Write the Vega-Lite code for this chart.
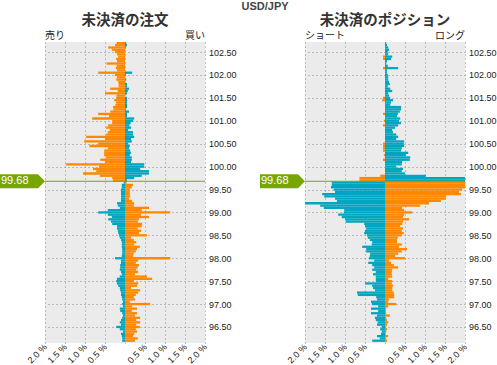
{
  "$schema": "https://vega.github.io/schema/vega-lite/v6.json",
  "padding": {"left": 0, "top": 0, "right": 0, "bottom": 0},
  "title": {"text": "USD/JPY", "font": "Liberation Sans", "fontSize": 11, "fontWeight": "bold", "color": "#444", "anchor": "middle", "offset": 1, "dx": 17},
  "config": {
    "view": {"fill": "#ebebeb", "stroke": null},
    "font": "Liberation Sans",
    "axis": {"gridColor": "#888", "gridDash": [1, 3], "gridWidth": 1, "domain": false, "ticks": false, "labelFont": "Liberation Sans", "labelColor": "#222", "labelFontSize": 9, "title": null, "labelOverlap": false, "labelFlush": false, "labelBound": false, "tickCount": 30}
  },
  "spacing": 23,
  "datasets": {
    "spot": [{"price": 99.68}],
    "orders": [
      {"price": 102.7, "sell": -0.21, "buy": 0.03},
      {"price": 102.65, "sell": -0.25, "buy": 0.05},
      {"price": 102.6, "sell": -0.42, "buy": 0.02},
      {"price": 102.55, "sell": -0.33, "buy": 0},
      {"price": 102.5, "sell": -0.25, "buy": 0},
      {"price": 102.45, "sell": -0.2, "buy": 0},
      {"price": 102.4, "sell": -0.17, "buy": 0},
      {"price": 102.35, "sell": -0.22, "buy": 0},
      {"price": 102.3, "sell": -0.2, "buy": 0},
      {"price": 102.25, "sell": -0.46, "buy": 0},
      {"price": 102.2, "sell": -0.21, "buy": 0},
      {"price": 102.15, "sell": -0.23, "buy": 0},
      {"price": 102.1, "sell": -0.2, "buy": 0},
      {"price": 102.05, "sell": -0.67, "buy": 0.18},
      {"price": 102.0, "sell": -0.25, "buy": 0.02},
      {"price": 101.95, "sell": -0.2, "buy": 0},
      {"price": 101.9, "sell": -0.22, "buy": 0.03},
      {"price": 101.85, "sell": -0.17, "buy": 0},
      {"price": 101.8, "sell": -0.16, "buy": 0.05},
      {"price": 101.75, "sell": -0.16, "buy": 0.05},
      {"price": 101.7, "sell": -0.37, "buy": 0.1},
      {"price": 101.65, "sell": -0.18, "buy": 0.07},
      {"price": 101.6, "sell": -0.5, "buy": 0.05},
      {"price": 101.55, "sell": -0.21, "buy": 0},
      {"price": 101.5, "sell": -0.22, "buy": 0.05},
      {"price": 101.45, "sell": -0.27, "buy": 0.05},
      {"price": 101.4, "sell": -0.22, "buy": 0.05},
      {"price": 101.35, "sell": -0.24, "buy": 0.05},
      {"price": 101.3, "sell": -0.3, "buy": 0.05},
      {"price": 101.25, "sell": -0.29, "buy": 0.02},
      {"price": 101.2, "sell": -0.37, "buy": 0.1},
      {"price": 101.15, "sell": -0.67, "buy": 0.05},
      {"price": 101.1, "sell": -0.4, "buy": 0.05},
      {"price": 101.05, "sell": -0.82, "buy": 0.23},
      {"price": 101.0, "sell": -0.32, "buy": 0.2},
      {"price": 100.95, "sell": -0.32, "buy": 0.14},
      {"price": 100.9, "sell": -0.42, "buy": 0.11},
      {"price": 100.85, "sell": -0.47, "buy": 0.15},
      {"price": 100.8, "sell": -0.38, "buy": 0.08},
      {"price": 100.75, "sell": -0.43, "buy": 0.2},
      {"price": 100.7, "sell": -0.47, "buy": 0.2},
      {"price": 100.65, "sell": -0.97, "buy": 0.23},
      {"price": 100.6, "sell": -0.5, "buy": 0.15},
      {"price": 100.55, "sell": -1.02, "buy": 0.17},
      {"price": 100.5, "sell": -0.67, "buy": 0.08},
      {"price": 100.45, "sell": -0.89, "buy": 0.12},
      {"price": 100.4, "sell": -0.43, "buy": 0.1},
      {"price": 100.35, "sell": -0.52, "buy": 0.13},
      {"price": 100.3, "sell": -0.52, "buy": 0.15},
      {"price": 100.25, "sell": -0.52, "buy": 0.12},
      {"price": 100.2, "sell": -0.48, "buy": 0.17},
      {"price": 100.15, "sell": -0.62, "buy": 0.17},
      {"price": 100.1, "sell": -0.5, "buy": 0.15},
      {"price": 100.05, "sell": -1.47, "buy": 0.48},
      {"price": 100.0, "sell": -0.65, "buy": 0.48},
      {"price": 99.95, "sell": -0.8, "buy": 0.38},
      {"price": 99.9, "sell": -0.72, "buy": 0.6},
      {"price": 99.85, "sell": -1.05, "buy": 0.6},
      {"price": 99.8, "sell": -0.63, "buy": 0.42},
      {"price": 99.75, "sell": -0.32, "buy": 0.23},
      {"price": 99.7, "sell": -0.3, "buy": 0.05},
      {"price": 99.65, "sell": -0.03, "buy": 0.04},
      {"price": 99.6, "sell": -0.08, "buy": 0.2},
      {"price": 99.55, "sell": -0.08, "buy": 0.17},
      {"price": 99.5, "sell": -0.1, "buy": 0.12},
      {"price": 99.45, "sell": -0.1, "buy": 0.12},
      {"price": 99.4, "sell": -0.1, "buy": 0.12},
      {"price": 99.35, "sell": -0.1, "buy": 0.13},
      {"price": 99.3, "sell": -0.1, "buy": 0.1},
      {"price": 99.25, "sell": -0.1, "buy": 0.18},
      {"price": 99.2, "sell": -0.2, "buy": 0.23},
      {"price": 99.15, "sell": -0.18, "buy": 0.22},
      {"price": 99.1, "sell": -0.13, "buy": 0.6},
      {"price": 99.05, "sell": -0.43, "buy": 0.42},
      {"price": 99.0, "sell": -0.67, "buy": 1.13},
      {"price": 98.95, "sell": -0.43, "buy": 0.4},
      {"price": 98.9, "sell": -0.33, "buy": 0.6},
      {"price": 98.85, "sell": -0.42, "buy": 0.35},
      {"price": 98.8, "sell": -0.35, "buy": 0.32},
      {"price": 98.75, "sell": -0.32, "buy": 0.43},
      {"price": 98.7, "sell": -0.2, "buy": 0.42},
      {"price": 98.65, "sell": -0.2, "buy": 0.32},
      {"price": 98.6, "sell": -0.18, "buy": 0.4},
      {"price": 98.55, "sell": -0.17, "buy": 0.35},
      {"price": 98.5, "sell": -0.15, "buy": 0.55},
      {"price": 98.45, "sell": -0.13, "buy": 0.15},
      {"price": 98.4, "sell": -0.1, "buy": 0.22},
      {"price": 98.35, "sell": -0.08, "buy": 0.28},
      {"price": 98.3, "sell": -0.08, "buy": 0.23},
      {"price": 98.25, "sell": -0.08, "buy": 0.37},
      {"price": 98.2, "sell": -0.07, "buy": 0.3},
      {"price": 98.15, "sell": -0.07, "buy": 0.27},
      {"price": 98.1, "sell": -0.07, "buy": 0.22},
      {"price": 98.05, "sell": -0.08, "buy": 0.2},
      {"price": 98.0, "sell": -0.25, "buy": 1.13},
      {"price": 97.95, "sell": -0.1, "buy": 0.33},
      {"price": 97.9, "sell": -0.1, "buy": 0.27},
      {"price": 97.85, "sell": -0.12, "buy": 0.35},
      {"price": 97.8, "sell": -0.12, "buy": 0.32},
      {"price": 97.75, "sell": -0.13, "buy": 0.28},
      {"price": 97.7, "sell": -0.1, "buy": 0.33},
      {"price": 97.65, "sell": -0.08, "buy": 0.25},
      {"price": 97.6, "sell": -0.13, "buy": 0.55},
      {"price": 97.55, "sell": -0.2, "buy": 0.68},
      {"price": 97.5, "sell": -0.22, "buy": 0.22},
      {"price": 97.45, "sell": -0.2, "buy": 0.33},
      {"price": 97.4, "sell": -0.17, "buy": 0.3},
      {"price": 97.35, "sell": -0.13, "buy": 0.15},
      {"price": 97.3, "sell": -0.12, "buy": 0.38},
      {"price": 97.25, "sell": -0.1, "buy": 0.33},
      {"price": 97.2, "sell": -0.1, "buy": 0.27},
      {"price": 97.15, "sell": -0.08, "buy": 0.22},
      {"price": 97.1, "sell": -0.07, "buy": 0.25},
      {"price": 97.05, "sell": -0.05, "buy": 0.12},
      {"price": 97.0, "sell": -0.07, "buy": 0.63},
      {"price": 96.95, "sell": -0.05, "buy": 0.18},
      {"price": 96.9, "sell": -0.13, "buy": 0.3},
      {"price": 96.85, "sell": -0.12, "buy": 0.17},
      {"price": 96.8, "sell": -0.07, "buy": 0.3},
      {"price": 96.75, "sell": -0.05, "buy": 0.25},
      {"price": 96.7, "sell": -0.07, "buy": 0.38},
      {"price": 96.65, "sell": -0.1, "buy": 0.28},
      {"price": 96.6, "sell": -0.13, "buy": 0.38},
      {"price": 96.55, "sell": -0.1, "buy": 0.28},
      {"price": 96.5, "sell": -0.22, "buy": 0.37},
      {"price": 96.45, "sell": -0.13, "buy": 0.27},
      {"price": 96.4, "sell": -0.05, "buy": 0.3},
      {"price": 96.35, "sell": -0.1, "buy": 0.23},
      {"price": 96.3, "sell": -0.08, "buy": 0.2},
      {"price": 96.25, "sell": -0.07, "buy": 0.32},
      {"price": 96.2, "sell": -0.07, "buy": 0.25},
      {"price": 96.15, "sell": -0.07, "buy": 0.23}
    ],
    "positions": [
      {"price": 102.7, "short": 0, "long": 0.03},
      {"price": 102.65, "short": 0, "long": 0.05},
      {"price": 102.6, "short": 0, "long": 0.08},
      {"price": 102.55, "short": 0, "long": 0.1},
      {"price": 102.5, "short": 0, "long": 0.07},
      {"price": 102.45, "short": 0, "long": 0.08},
      {"price": 102.4, "short": -0.05, "long": 0.18},
      {"price": 102.35, "short": -0.05, "long": 0.15},
      {"price": 102.3, "short": 0, "long": 0.05},
      {"price": 102.25, "short": 0, "long": 0.03},
      {"price": 102.2, "short": 0, "long": 0.07},
      {"price": 102.15, "short": -0.05, "long": 0.33},
      {"price": 102.1, "short": 0, "long": 0.05},
      {"price": 102.05, "short": 0, "long": 0.05},
      {"price": 102.0, "short": 0, "long": 0.07},
      {"price": 101.95, "short": 0, "long": 0.08},
      {"price": 101.9, "short": 0, "long": 0.08},
      {"price": 101.85, "short": 0, "long": 0.1},
      {"price": 101.8, "short": 0, "long": 0.12},
      {"price": 101.75, "short": 0, "long": 0.07},
      {"price": 101.7, "short": 0, "long": 0.13},
      {"price": 101.65, "short": 0, "long": 0.18},
      {"price": 101.6, "short": 0, "long": 0.08},
      {"price": 101.55, "short": 0, "long": 0.1},
      {"price": 101.5, "short": -0.05, "long": 0.13},
      {"price": 101.45, "short": -0.07, "long": 0.2},
      {"price": 101.4, "short": 0, "long": 0.15},
      {"price": 101.35, "short": 0, "long": 0.13},
      {"price": 101.3, "short": 0, "long": 0.4},
      {"price": 101.25, "short": 0, "long": 0.4},
      {"price": 101.2, "short": 0, "long": 0.37},
      {"price": 101.15, "short": -0.05, "long": 0.32},
      {"price": 101.1, "short": 0, "long": 0.3},
      {"price": 101.05, "short": 0, "long": 0.38},
      {"price": 101.0, "short": -0.03, "long": 0.35},
      {"price": 100.95, "short": 0, "long": 0.4},
      {"price": 100.9, "short": -0.05, "long": 0.33},
      {"price": 100.85, "short": 0, "long": 0.25},
      {"price": 100.8, "short": 0, "long": 0.18},
      {"price": 100.75, "short": 0, "long": 0.2},
      {"price": 100.7, "short": 0, "long": 0.28},
      {"price": 100.65, "short": 0, "long": 0.33},
      {"price": 100.6, "short": 0, "long": 0.28},
      {"price": 100.55, "short": 0, "long": 0.48},
      {"price": 100.5, "short": -0.05, "long": 0.47},
      {"price": 100.45, "short": -0.05, "long": 0.48},
      {"price": 100.4, "short": -0.05, "long": 0.42},
      {"price": 100.35, "short": -0.05, "long": 0.4},
      {"price": 100.3, "short": 0, "long": 0.58},
      {"price": 100.25, "short": -0.03, "long": 0.52},
      {"price": 100.2, "short": 0, "long": 0.63},
      {"price": 100.15, "short": -0.05, "long": 0.62},
      {"price": 100.1, "short": 0, "long": 0.43},
      {"price": 100.05, "short": 0, "long": 0.42},
      {"price": 100.0, "short": 0, "long": 0.28},
      {"price": 99.95, "short": 0, "long": 0.45},
      {"price": 99.9, "short": 0, "long": 0.42},
      {"price": 99.85, "short": 0, "long": 0.5},
      {"price": 99.8, "short": -0.12, "long": 1.02},
      {"price": 99.75, "short": -0.64, "long": 2.0},
      {"price": 99.7, "short": -0.64, "long": 2.0},
      {"price": 99.65, "short": -1.33, "long": 2.0},
      {"price": 99.6, "short": -1.33, "long": 2.0},
      {"price": 99.55, "short": -1.35, "long": 2.0},
      {"price": 99.5, "short": -1.28, "long": 1.93},
      {"price": 99.45, "short": -1.25, "long": 1.85},
      {"price": 99.4, "short": -1.57, "long": 1.9},
      {"price": 99.35, "short": -1.52, "long": 1.53},
      {"price": 99.3, "short": -1.25, "long": 1.52},
      {"price": 99.25, "short": -1.2, "long": 1.4},
      {"price": 99.2, "short": -2.0, "long": 1.1},
      {"price": 99.15, "short": -1.62, "long": 0.88},
      {"price": 99.1, "short": -1.53, "long": 0.43},
      {"price": 99.05, "short": -1.02, "long": 0.48},
      {"price": 99.0, "short": -1.03, "long": 0.68},
      {"price": 98.95, "short": -1.17, "long": 0.48},
      {"price": 98.9, "short": -1.08, "long": 0.45},
      {"price": 98.85, "short": -1.0, "long": 0.6},
      {"price": 98.8, "short": -0.98, "long": 0.45},
      {"price": 98.75, "short": -0.52, "long": 0.43},
      {"price": 98.7, "short": -0.5, "long": 0.38},
      {"price": 98.65, "short": -0.47, "long": 0.45},
      {"price": 98.6, "short": -0.5, "long": 0.42},
      {"price": 98.55, "short": -0.52, "long": 0.47},
      {"price": 98.5, "short": -0.45, "long": 0.42},
      {"price": 98.45, "short": -0.43, "long": 0.32},
      {"price": 98.4, "short": -0.38, "long": 0.3},
      {"price": 98.35, "short": -0.32, "long": 0.3},
      {"price": 98.3, "short": -0.33, "long": 0.42},
      {"price": 98.25, "short": -0.57, "long": 0.35},
      {"price": 98.2, "short": -0.47, "long": 0.55},
      {"price": 98.15, "short": -0.47, "long": 0.42},
      {"price": 98.1, "short": -0.37, "long": 0.33},
      {"price": 98.05, "short": -0.38, "long": 0.25},
      {"price": 98.0, "short": -0.4, "long": 0.5},
      {"price": 97.95, "short": -0.27, "long": 0.1},
      {"price": 97.9, "short": -0.42, "long": 0.15},
      {"price": 97.85, "short": -0.32, "long": 0.22},
      {"price": 97.8, "short": -0.27, "long": 0.33},
      {"price": 97.75, "short": -0.32, "long": 0.18},
      {"price": 97.7, "short": -0.23, "long": 0.17},
      {"price": 97.65, "short": -0.3, "long": 0.17},
      {"price": 97.6, "short": -0.23, "long": 0.18},
      {"price": 97.55, "short": -0.23, "long": 0.08},
      {"price": 97.5, "short": -0.23, "long": 0.18},
      {"price": 97.45, "short": -0.5, "long": 0.17},
      {"price": 97.4, "short": -0.32, "long": 0.2},
      {"price": 97.35, "short": -0.3, "long": 0.18},
      {"price": 97.3, "short": -0.25, "long": 0.18},
      {"price": 97.25, "short": -0.7, "long": 0.22},
      {"price": 97.2, "short": -0.68, "long": 0.23},
      {"price": 97.15, "short": -0.22, "long": 0.23},
      {"price": 97.1, "short": -0.2, "long": 0.1},
      {"price": 97.05, "short": -0.35, "long": 0.08},
      {"price": 97.0, "short": -0.33, "long": 0.28},
      {"price": 96.95, "short": -0.17, "long": 0.08},
      {"price": 96.9, "short": -0.35, "long": 0.03},
      {"price": 96.85, "short": -0.17, "long": 0.02},
      {"price": 96.8, "short": -0.35, "long": 0.03},
      {"price": 96.75, "short": -0.2, "long": 0.12},
      {"price": 96.7, "short": -0.25, "long": 0.03},
      {"price": 96.65, "short": -0.23, "long": 0.05},
      {"price": 96.6, "short": -0.18, "long": 0.08},
      {"price": 96.55, "short": -0.2, "long": 0.05},
      {"price": 96.5, "short": -0.08, "long": 0.03},
      {"price": 96.45, "short": -0.12, "long": 0.05},
      {"price": 96.4, "short": -0.08, "long": 0.03},
      {"price": 96.35, "short": -0.1, "long": 0.02},
      {"price": 96.3, "short": -0.2, "long": 0.08},
      {"price": 96.25, "short": -0.13, "long": 0.03},
      {"price": 96.2, "short": -0.32, "long": 0.05},
      {"price": 96.15, "short": -0.32, "long": 0.05}
    ]
  },
  "hconcat": [
    {
      "width": 160, "height": 301,
      "title": {"text": "未決済の注文", "font": "Noto Sans CJK JP", "fontSize": 14.5, "fontWeight": "bold", "color": "#333", "offset": 3},
      "layer": [
        {
          "data": {"name": "orders"},
          "transform": [{"bin": {"step": 0.05, "anchor": 96.125}, "field": "price", "as": ["lo", "hi"]}],
          "mark": {"type": "rect", "clip": true},
          "encoding": {
            "y": {"field": "lo", "type": "quantitative", "scale": {"domain": [96.15, 102.72], "nice": false, "zero": false},
                  "axis": {"orient": "right", "values": [96.5, 97, 97.5, 98, 98.5, 99, 99.5, 100, 100.5, 101, 101.5, 102, 102.5], "tickCount": 30, "format": ".2f", "labelPadding": 3.5}},
            "y2": {"field": "hi"},
            "x": {"field": "sell", "type": "quantitative", "scale": {"domain": [-2, 2], "nice": false},
                  "axis": {"values": [-2, -1.5, -1, -0.5, 0, 0.5, 1, 1.5, 2], "tickCount": 30, "labelExpr": "datum.value == 0 ? '' : format(abs(datum.value), '.1f') + ' %'", "labelAngle": -45, "labelAlign": "right", "labelBaseline": "middle", "labelFontSize": 9, "labelPadding": 2}},
            "x2": {"datum": 0},
            "color": {"condition": {"test": "datum.price > 99.68", "value": "#ff8800"}, "value": "#00a6bf"}
          }
        },
        {
          "data": {"name": "orders"},
          "transform": [{"bin": {"step": 0.05, "anchor": 96.125}, "field": "price", "as": ["lo", "hi"]}],
          "mark": {"type": "rect", "clip": true},
          "encoding": {
            "y": {"field": "lo", "type": "quantitative", "scale": {"domain": [96.15, 102.72], "nice": false, "zero": false}},
            "y2": {"field": "hi"},
            "x": {"field": "buy", "type": "quantitative", "scale": {"domain": [-2, 2], "nice": false}},
            "x2": {"datum": 0},
            "color": {"condition": {"test": "datum.price > 99.68", "value": "#00a6bf"}, "value": "#ff8800"}
          }
        },
        {
          "data": {"name": "spot"},
          "mark": {"type": "rule", "color": "#78a600", "strokeWidth": 1},
          "encoding": {
            "y": {"field": "price", "type": "quantitative", "scale": {"domain": [96.15, 102.72], "nice": false, "zero": false}},
            "x": {"datum": -2, "scale": {"domain": [-2, 2], "nice": false}},
            "x2": {"datum": 2}
          }
        },
        {
          "data": {"name": "spot"},
          "mark": {"type": "point", "shape": "M -1 -0.311 L 0.689 -0.311 L 1 0 L 0.689 0.311 L -1 0.311 Z", "size": 2025, "filled": true, "color": "#78a600", "opacity": 1, "strokeWidth": 0, "clip": false},
          "encoding": {
            "y": {"field": "price", "type": "quantitative", "scale": {"domain": [96.15, 102.72], "nice": false, "zero": false}},
            "x": {"datum": -2.5625, "scale": {"domain": [-2, 2], "nice": false}}
          }
        },
        {
          "data": {"name": "spot"},
          "mark": {"type": "text", "align": "left", "baseline": "middle", "color": "#ffffff", "fontSize": 11, "font": "Liberation Sans", "clip": false},
          "encoding": {
            "y": {"field": "price", "type": "quantitative", "scale": {"domain": [96.15, 102.72], "nice": false, "zero": false}},
            "x": {"datum": -3.1, "scale": {"domain": [-2, 2], "nice": false}},
            "text": {"field": "price", "format": ".2f"}
          }
        },
        {
          "data": {"values": [{}]},
          "mark": {"type": "text", "align": "left", "baseline": "bottom", "font": "Noto Sans CJK JP", "fontSize": 10, "color": "#222", "dy": -1},
          "encoding": {
            "x": {"datum": -2, "scale": {"domain": [-2, 2], "nice": false}},
            "y": {"datum": 102.72, "scale": {"domain": [96.15, 102.72], "nice": false, "zero": false}},
            "text": {"value": "売り"}
          }
        },
        {
          "data": {"values": [{}]},
          "mark": {"type": "text", "align": "right", "baseline": "bottom", "font": "Noto Sans CJK JP", "fontSize": 10, "color": "#222", "dy": -1},
          "encoding": {
            "x": {"datum": 2, "scale": {"domain": [-2, 2], "nice": false}},
            "y": {"datum": 102.72, "scale": {"domain": [96.15, 102.72], "nice": false, "zero": false}},
            "text": {"value": "買い"}
          }
        }
      ]
    },
    {
      "width": 160, "height": 301,
      "title": {"text": "未決済のポジション", "font": "Noto Sans CJK JP", "fontSize": 14.5, "fontWeight": "bold", "color": "#333", "offset": 3},
      "layer": [
        {
          "data": {"name": "positions"},
          "transform": [{"bin": {"step": 0.05, "anchor": 96.125}, "field": "price", "as": ["lo", "hi"]}],
          "mark": {"type": "rect", "clip": true},
          "encoding": {
            "y": {"field": "lo", "type": "quantitative", "scale": {"domain": [96.15, 102.72], "nice": false, "zero": false},
                  "axis": {"orient": "right", "values": [96.5, 97, 97.5, 98, 98.5, 99, 99.5, 100, 100.5, 101, 101.5, 102, 102.5], "tickCount": 30, "format": ".2f", "labelPadding": 3.5}},
            "y2": {"field": "hi"},
            "x": {"field": "short", "type": "quantitative", "scale": {"domain": [-2, 2], "nice": false},
                  "axis": {"values": [-2, -1.5, -1, -0.5, 0, 0.5, 1, 1.5, 2], "tickCount": 30, "labelExpr": "datum.value == 0 ? '' : format(abs(datum.value), '.1f') + ' %'", "labelAngle": -45, "labelAlign": "right", "labelBaseline": "middle", "labelFontSize": 9, "labelPadding": 2}},
            "x2": {"datum": 0},
            "color": {"condition": {"test": "datum.price > 99.68", "value": "#ff8800"}, "value": "#00a6bf"}
          }
        },
        {
          "data": {"name": "positions"},
          "transform": [{"bin": {"step": 0.05, "anchor": 96.125}, "field": "price", "as": ["lo", "hi"]}],
          "mark": {"type": "rect", "clip": true},
          "encoding": {
            "y": {"field": "lo", "type": "quantitative", "scale": {"domain": [96.15, 102.72], "nice": false, "zero": false}},
            "y2": {"field": "hi"},
            "x": {"field": "long", "type": "quantitative", "scale": {"domain": [-2, 2], "nice": false}},
            "x2": {"datum": 0},
            "color": {"condition": {"test": "datum.price > 99.68", "value": "#00a6bf"}, "value": "#ff8800"}
          }
        },
        {
          "data": {"name": "spot"},
          "mark": {"type": "rule", "color": "#78a600", "strokeWidth": 1},
          "encoding": {
            "y": {"field": "price", "type": "quantitative", "scale": {"domain": [96.15, 102.72], "nice": false, "zero": false}},
            "x": {"datum": -2, "scale": {"domain": [-2, 2], "nice": false}},
            "x2": {"datum": 2}
          }
        },
        {
          "data": {"name": "spot"},
          "mark": {"type": "point", "shape": "M -1 -0.311 L 0.689 -0.311 L 1 0 L 0.689 0.311 L -1 0.311 Z", "size": 2025, "filled": true, "color": "#78a600", "opacity": 1, "strokeWidth": 0, "clip": false},
          "encoding": {
            "y": {"field": "price", "type": "quantitative", "scale": {"domain": [96.15, 102.72], "nice": false, "zero": false}},
            "x": {"datum": -2.5625, "scale": {"domain": [-2, 2], "nice": false}}
          }
        },
        {
          "data": {"name": "spot"},
          "mark": {"type": "text", "align": "left", "baseline": "middle", "color": "#ffffff", "fontSize": 11, "font": "Liberation Sans", "clip": false},
          "encoding": {
            "y": {"field": "price", "type": "quantitative", "scale": {"domain": [96.15, 102.72], "nice": false, "zero": false}},
            "x": {"datum": -3.1, "scale": {"domain": [-2, 2], "nice": false}},
            "text": {"field": "price", "format": ".2f"}
          }
        },
        {
          "data": {"values": [{}]},
          "mark": {"type": "text", "align": "left", "baseline": "bottom", "font": "Noto Sans CJK JP", "fontSize": 10, "color": "#222", "dy": -1},
          "encoding": {
            "x": {"datum": -2, "scale": {"domain": [-2, 2], "nice": false}},
            "y": {"datum": 102.72, "scale": {"domain": [96.15, 102.72], "nice": false, "zero": false}},
            "text": {"value": "ショート"}
          }
        },
        {
          "data": {"values": [{}]},
          "mark": {"type": "text", "align": "right", "baseline": "bottom", "font": "Noto Sans CJK JP", "fontSize": 10, "color": "#222", "dy": -1},
          "encoding": {
            "x": {"datum": 2, "scale": {"domain": [-2, 2], "nice": false}},
            "y": {"datum": 102.72, "scale": {"domain": [96.15, 102.72], "nice": false, "zero": false}},
            "text": {"value": "ロング"}
          }
        }
      ]
    }
  ]
}
